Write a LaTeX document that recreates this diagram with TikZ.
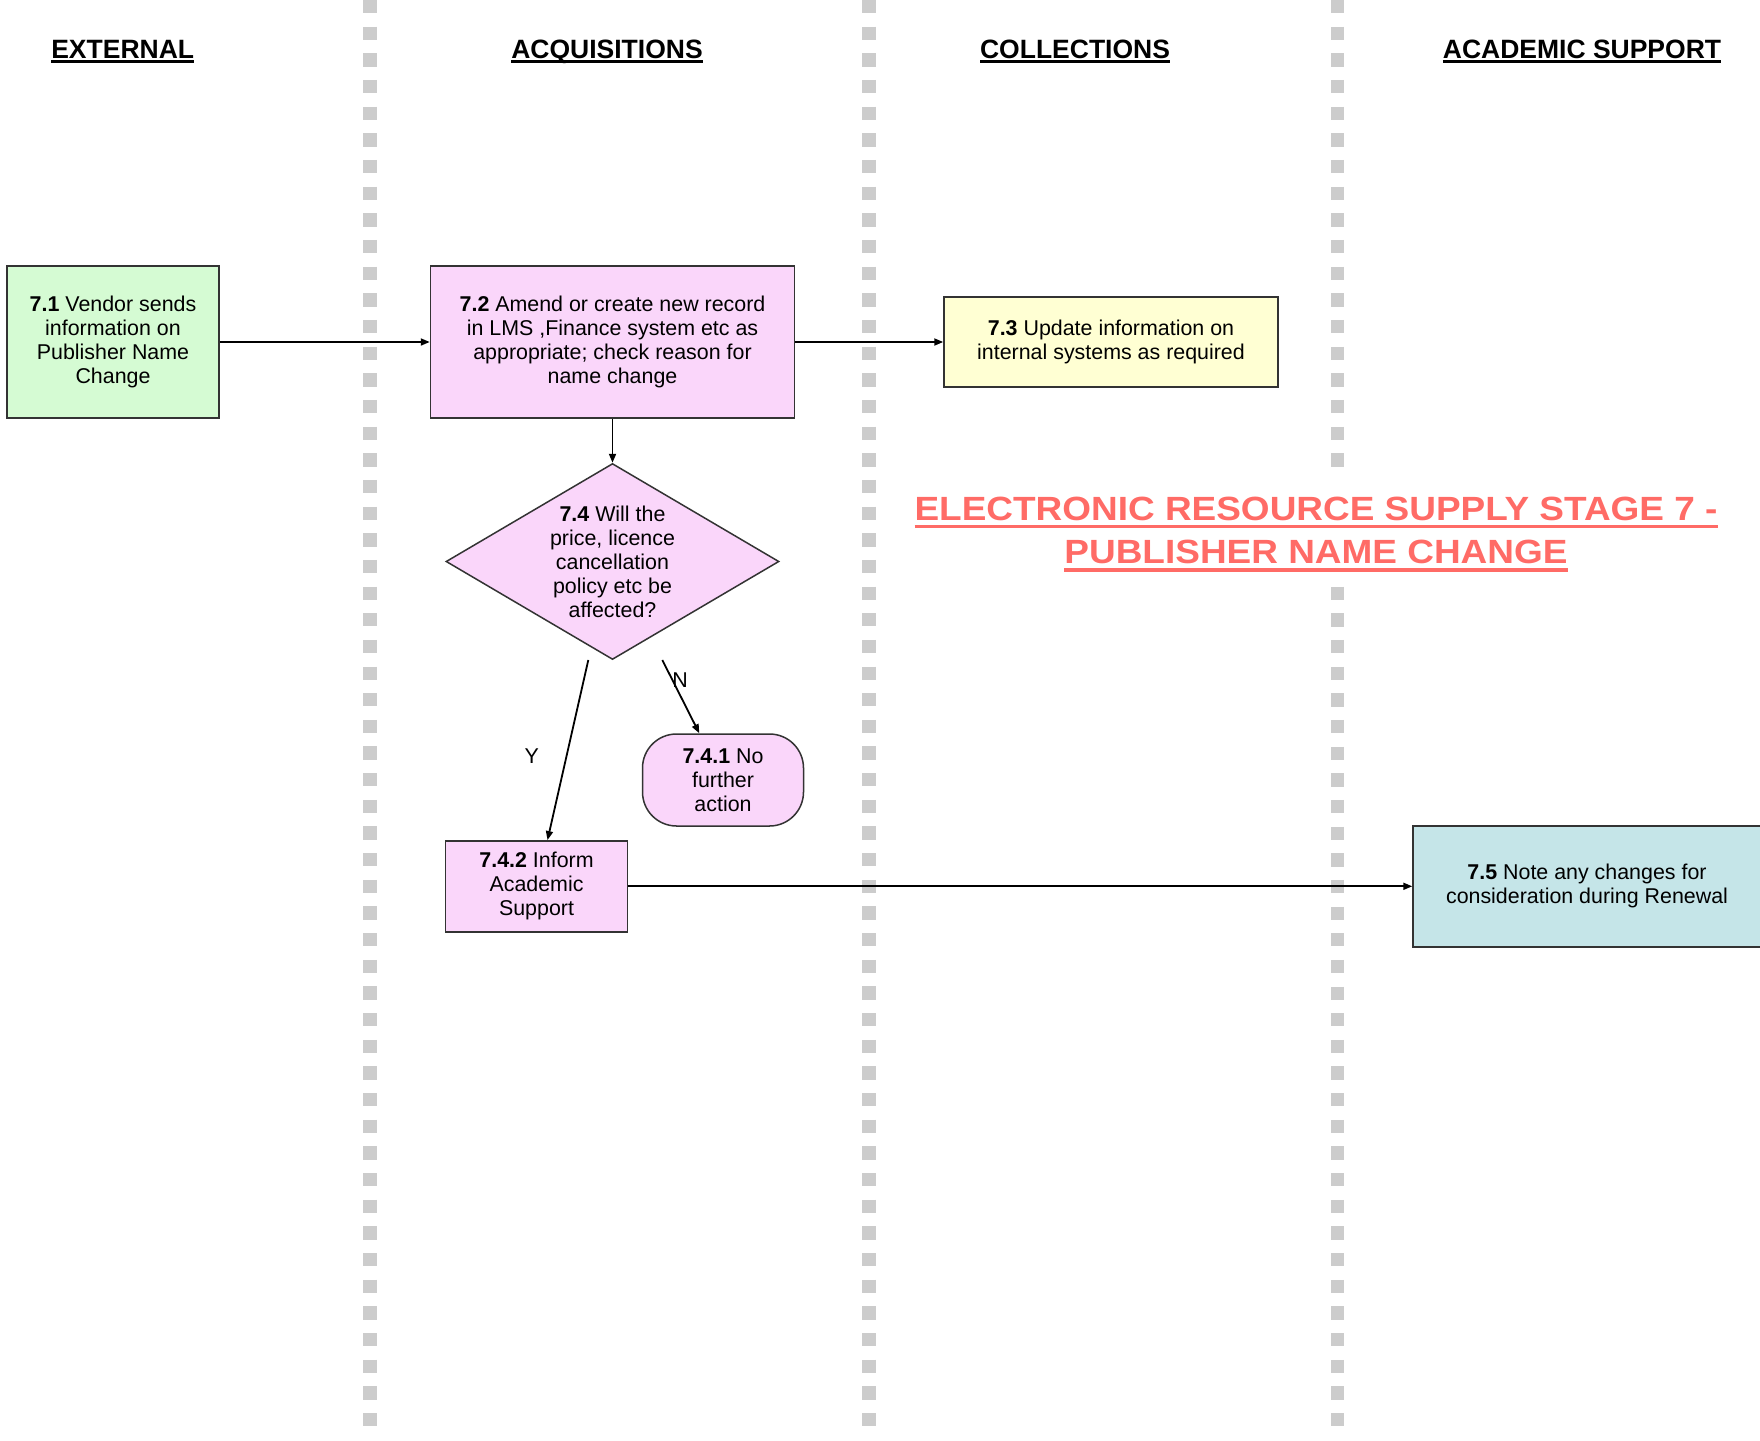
\documentclass[tikz,border=0pt]{standalone}
\usepackage{fontspec}
\setmainfont{Liberation Sans}
\newfontfamily\titlefont{Liberation Sans}[FakeStretch=1.1]
\usetikzlibrary{arrows.meta,shapes.geometric,calc}
\definecolor{lanegray}{HTML}{CCCCCC}
\definecolor{cgreen}{HTML}{D5FBD3}
\definecolor{cpink}{HTML}{FAD6FA}
\definecolor{cyellow}{HTML}{FFFFD3}
\definecolor{cteal}{HTML}{C5E5E8}
\definecolor{ctitle}{HTML}{FF6B66}
\definecolor{cborder}{HTML}{333333}
\newcommand\myuline[3]{{\setbox0\hbox{#3}\leavevmode\rlap{\rule[-#2]{\wd0}{#1}}\box0}}
\newcommand\bodyf{\fontsize{21.4}{24}\selectfont}
\tikzset{
  lane/.style={draw=lanegray, line width=13.5pt, dash pattern=on 13.3pt off 13.36pt},
  hdr/.style={font=\fontsize{26.5}{30}\selectfont\bfseries, inner sep=0pt, anchor=base},
  ttl/.style={font=\titlefont\fontsize{33.6}{40}\selectfont\bfseries, text=ctitle, inner sep=0pt, anchor=base},
  box/.style={draw=cborder, line width=1.5pt, align=center, inner sep=0pt, font=\bodyf},
  conn/.style={-{Triangle[length=9pt,width=7pt]}, line width=1.8pt, draw=black},
  lbl/.style={font=\bodyf, inner sep=0pt}
}
\begin{document}
\begin{tikzpicture}[x=1pt,y=-1pt]
\useasboundingbox (0,0) rectangle (1760,1440);
% swimlane separators
\draw[lane] (370,0) -- (370,1427);
\draw[lane] (869,0) -- (869,1427);
\draw[lane] (1337.5,0) -- (1337.5,466.6);
\draw[lane] (1337.5,586.6) -- (1337.5,1427);
% headers
\node[hdr] (hext) at (122.7,58.3) {\myuline{2.5pt}{4.4pt}{EXTERNAL}};
\node[hdr] (hacq) at (607,58.3) {\myuline{2.5pt}{4.4pt}{ACQUISITIONS}};
\node[hdr] (hcol) at (1075,58.3) {\myuline{2.5pt}{4.4pt}{COLLECTIONS}};
\node[hdr] (hacs) at (1582,58.3) {\myuline{2.5pt}{4.4pt}{ACADEMIC SUPPORT}};
% title
\node[ttl] (t1) at (1316,520) {\myuline{3.3pt}{8.3pt}{ELECTRONIC RESOURCE SUPPLY STAGE 7 -}};
\node[ttl] (t2) at (1316,563.3) {\myuline{3.3pt}{8.3pt}{PUBLISHER NAME CHANGE}};
% boxes
\node[box, fill=cgreen, minimum width=212pt, minimum height=152pt] (n71) at (113,342)
  {\textbf{7.1} Vendor sends\\information on\\Publisher Name\\Change};
\node[box, fill=cpink, minimum width=364pt, minimum height=152pt] (n72) at (612.5,342)
  {\textbf{7.2} Amend or create new record\\in LMS ,Finance system etc as\\appropriate; check reason for\\name change};
\node[box, fill=cyellow, minimum width=334pt, minimum height=90pt] (n73) at (1111,342)
  {\textbf{7.3} Update information on\\internal systems as required};
\node[box, fill=cpink, shape=diamond, aspect=1.7, minimum width=333pt, minimum height=196pt] (n74) at (612.5,561.5)
  {\textbf{7.4} Will the\\price, licence\\cancellation\\policy etc be\\affected?};
\node[box, fill=cpink, rounded corners=34pt, minimum width=161pt, minimum height=92pt] (n741) at (723,780)
  {\textbf{7.4.1} No\\further\\action};
\node[box, fill=cpink, minimum width=182pt, minimum height=91pt] (n742) at (536.5,886.3)
  {\textbf{7.4.2} Inform\\Academic\\Support};
\node[box, fill=cteal, minimum width=348pt, minimum height=121pt] (n75) at (1587,886.3)
  {\textbf{7.5} Note any changes for\\consideration during Renewal};
% connectors
\draw[conn] (n71.east) -- (n72.west);
\draw[conn] (n72.east) -- (n73.west);
\draw[conn] (n72.south) -- (n74.north);
\coordinate (ys) at (588.3,660);
\coordinate (ns) at (662.3,660);
\draw[conn] (ys) -- ($(n742.north)+(11,0)$);
\draw[conn] (ns) -- ($(n741.north)+(-23.7,0)$);
\draw[conn] (n742.east) -- (n75.west);
% branch labels
\node[lbl] (ly) at (531.7,756) {Y};
\node[lbl] (ln) at (680,680) {N};
\end{tikzpicture}
\end{document}
